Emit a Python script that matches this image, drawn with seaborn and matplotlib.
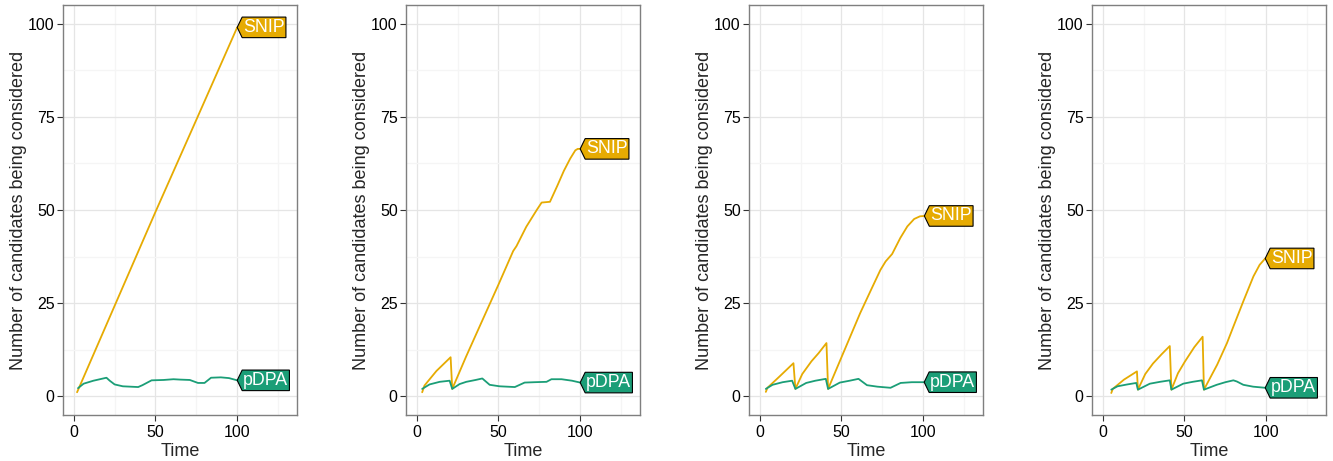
import matplotlib
matplotlib.use("Agg")
import matplotlib.pyplot as plt
from matplotlib.path import Path
import seaborn as sns
import pandas as pd

# ---------------- data ----------------
series_names = ["SNIP", "pDPA"]
series_colors = {"SNIP": "#E6AB02", "pDPA": "#1B9E77"}

# panel 1
p1_snip_time = [2, 25, 50, 75, 100]
p1_snip_vals = [1.1, 24.3, 49.5, 74.2, 99.0]
p1_pdpa_time = [2.6, 6, 12, 20, 22, 25, 30, 39.4, 42, 47.6, 55, 61, 65, 71, 76, 80, 84, 90, 95, 100]
p1_pdpa_vals = [2.2, 3.4, 4.2, 5.0, 4.2, 3.2, 2.7, 2.5, 3.0, 4.3, 4.4, 4.6, 4.5, 4.4, 3.6, 3.6, 5.0, 5.1, 4.9, 4.3]

# panel 2
p2_snip_time = [3.3, 4.7, 12, 20.7, 21.7, 30, 38.5, 50, 59, 61, 67, 73.4, 76.4, 81.5, 86, 90, 93.9, 97, 98.5, 100]
p2_snip_vals = [1.1, 2.9, 6.8, 10.5, 2.0, 10.5, 18.8, 30.0, 39.0, 40.3, 45.5, 50.0, 52.0, 52.2, 56.5, 60.5, 63.8, 66.0, 66.4, 66.4]
p2_pdpa_time = [3.3, 7.8, 14, 20.1, 21.7, 26.2, 30.3, 36, 40.1, 44.6, 50.7, 60, 66, 72, 79.4, 82.4, 88.6, 95, 100]
p2_pdpa_vals = [2.0, 3.2, 3.9, 4.2, 2.0, 3.3, 3.9, 4.4, 4.8, 3.1, 2.7, 2.5, 3.7, 3.8, 3.9, 4.6, 4.6, 4.2, 3.7]

# panel 3
p3_snip_time = [3.7, 4.7, 12, 20.6, 21.8, 26, 31.6, 36, 40.8, 41.8, 50, 61.4, 68, 73.8, 77, 81, 86, 90.3, 94.5, 98, 100.7]
p3_snip_vals = [1.2, 2.3, 5.3, 8.9, 2.0, 6.0, 9.4, 11.6, 14.3, 2.0, 10.5, 22.3, 28.5, 33.9, 36.2, 38.2, 42.5, 45.6, 47.6, 48.3, 48.4]
p3_pdpa_time = [3.7, 7.8, 14, 19.8, 21.8, 28.4, 34, 40.4, 41.8, 49, 55, 60.4, 65.6, 72, 80, 86.2, 93, 100.6]
p3_pdpa_vals = [2.0, 3.1, 3.8, 4.2, 2.0, 3.6, 4.2, 4.7, 2.0, 3.7, 4.2, 4.7, 3.0, 2.6, 2.3, 3.6, 3.8, 3.8]

# panel 4
p4_snip_time = [5.2, 6.1, 13, 20.9, 21.5, 26, 30.7, 36, 41.0, 42.0, 46, 50.2, 56, 61.1, 61.9, 70, 76, 79.9, 86, 92.2, 96, 99.4]
p4_snip_vals = [0.9, 2.0, 4.5, 6.7, 1.8, 6.0, 8.8, 11.3, 13.5, 1.8, 6.2, 9.3, 13.2, 16.0, 1.8, 8.5, 14.3, 18.7, 25.5, 32.2, 35.3, 37.0]
p4_pdpa_time = [5.2, 9, 15, 20.5, 21.5, 28.8, 35, 41.0, 42.0, 49.2, 55, 60.7, 61.9, 69.7, 75, 79.9, 82, 86, 92, 99.4]
p4_pdpa_vals = [1.8, 2.7, 3.2, 3.6, 1.8, 3.4, 3.9, 4.3, 1.8, 3.4, 3.9, 4.3, 1.8, 3.1, 3.8, 4.3, 4.0, 3.1, 2.6, 2.3]

panels = [
    (p1_snip_time, p1_snip_vals, p1_pdpa_time, p1_pdpa_vals),
    (p2_snip_time, p2_snip_vals, p2_pdpa_time, p2_pdpa_vals),
    (p3_snip_time, p3_snip_vals, p3_pdpa_time, p3_pdpa_vals),
    (p4_snip_time, p4_snip_vals, p4_pdpa_time, p4_pdpa_vals),
]

y_ticks = [0, 25, 50, 75, 100]
x_ticks = [0, 50, 100]
x_label = "Time"
y_label = "Number of candidates being considered"

# ---------------- style ----------------
sns.set_theme(style="white")
plt.rcParams["font.family"] = ["Liberation Sans", "DejaVu Sans"]

W, H, DPI = 1333, 461, 100
fig = plt.figure(figsize=(W / DPI, H / DPI), dpi=DPI)

LABEL_FS = 12.8
FS_PX = LABEL_FS * DPI / 72.0
PAD_X = 0.06  # fraction of font px
PAD_Y = 0.10
ARROW = 0.28


def tag_box(x0, y0, width, height, mutation_size):
    px = PAD_X * mutation_size
    py = PAD_Y * mutation_size
    a = ARROW * mutation_size
    xl, xr = x0 - px, x0 + width + px
    yb, yt = y0 - py, y0 + height + py
    ym = (yb + yt) / 2
    verts = [(xl, yb), (xr, yb), (xr, yt), (xl, yt), (xl - a, ym), (xl, yb)]
    codes = [Path.MOVETO] + [Path.LINETO] * 4 + [Path.CLOSEPOLY]
    return Path(verts, codes)


lefts_px = [63, 406, 749, 1092]
ax_w_px = 234
top_px, bot_px = 5, 415

for i, (st, sv, pt, pv) in enumerate(panels):
    ax = fig.add_axes([lefts_px[i] / W, (H - bot_px) / H, ax_w_px / W, (bot_px - top_px) / H])
    df = pd.concat([
        pd.DataFrame({"Time": st, "value": sv, "series": "SNIP"}),
        pd.DataFrame({"Time": pt, "value": pv, "series": "pDPA"}),
    ], ignore_index=True)
    ax.set_xlim(-6.6, 136.6)
    ax.set_ylim(-5, 105)
    ax.set_xticks([25, 75, 125], minor=True)
    ax.set_yticks([12.5, 37.5, 62.5, 87.5], minor=True)
    ax.grid(True, which="major", color="#E5E5E5", lw=0.9)
    ax.grid(True, which="minor", color="#F5F5F5", lw=0.9)
    ax.set_axisbelow(True)
    sns.lineplot(data=df, x="Time", y="value", hue="series", hue_order=series_names,
                 palette=series_colors, ax=ax, legend=False, lw=1.3, sort=False,
                 estimator=None)
    ax.set_xticks(x_ticks)
    ax.set_yticks(y_ticks)
    ax.set_xlabel(x_label, fontsize=13, labelpad=2)
    ax.set_ylabel(y_label, fontsize=13, labelpad=1)
    ax.tick_params(axis="both", which="major", labelsize=11.5, length=4, width=0.8,
                   color="#333333", labelcolor="black", direction="out", pad=2,
                   bottom=True, left=True)
    ax.tick_params(axis="x", which="major", pad=3.5)
    ax.tick_params(which="minor", length=0)
    for s in ax.spines.values():
        s.set_color("#7F7F7F")
        s.set_linewidth(1.0)
    # direct labels
    for name, tt, vv in (("SNIP", st, sv), ("pDPA", pt, pv)):
        off_pt = (PAD_X + ARROW) * FS_PX * 72.0 / DPI
        ax.annotate(name, xy=(tt[-1], vv[-1]), xytext=(off_pt, 0),
                    textcoords="offset points", ha="left", va="center",
                    color="white", fontsize=LABEL_FS, zorder=5,
                    bbox=dict(boxstyle=tag_box, fc=series_colors[name], ec="black", lw=0.8))

fig.savefig("out.png", dpi=DPI)
